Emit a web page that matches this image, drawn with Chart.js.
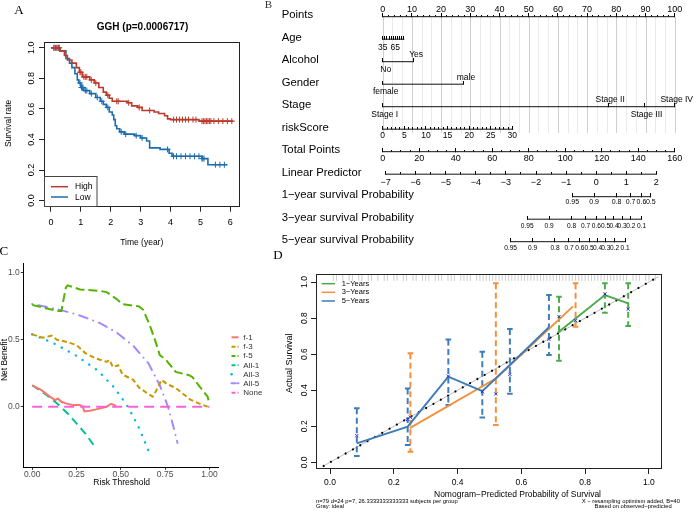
<!DOCTYPE html>
<html>
<head>
<meta charset="utf-8">
<script src="https://cdn.jsdelivr.net/npm/chart.js@4.4.1/dist/chart.umd.min.js"></script>
<style>
  body { margin: 0; background: #fff; }
  #fig { position: relative; width: 700px; height: 516px; overflow: hidden; background: #fff; }
  canvas { position: absolute; }
</style>
</head>
<body>
<div id="fig">
  <canvas id="cA" width="245" height="250" style="left:0;top:0"></canvas>
  <canvas id="cB" width="460" height="256" style="left:240px;top:0"></canvas>
  <canvas id="cC" width="268" height="276" style="left:0;top:240px"></canvas>
  <canvas id="cD" width="432" height="266" style="left:268px;top:250px"></canvas>
</div>
<script>
// ---------- A: Kaplan-Meier, GGH high / low (time in years, survival) ----------
const highSteps = [[0,1],[0.3,0.98],[0.45,0.95],[0.55,0.92],[0.7,0.9],[0.85,0.87],[0.95,0.84],[1.05,0.81],[1.3,0.79],[1.45,0.77],[1.6,0.74],[1.75,0.71],[1.85,0.69],[1.95,0.67],[2.05,0.65],[2.55,0.64],[2.7,0.62],[2.9,0.61],[3.05,0.59],[3.45,0.58],[3.6,0.57],[3.8,0.555],[3.9,0.535],[4.0,0.53],[4.95,0.52],[6.1,0.52]];
const lowSteps = [[0,1],[0.3,0.98],[0.5,0.93],[0.62,0.9],[0.7,0.87],[0.8,0.83],[0.88,0.79],[0.93,0.77],[1.0,0.74],[1.1,0.72],[1.3,0.7],[1.5,0.675],[1.65,0.65],[1.75,0.63],[1.85,0.61],[1.95,0.58],[2.05,0.56],[2.1,0.53],[2.15,0.49],[2.2,0.47],[2.3,0.45],[2.45,0.435],[2.8,0.425],[3.0,0.41],[3.2,0.39],[3.3,0.345],[3.65,0.335],[3.95,0.31],[4.05,0.29],[5.05,0.275],[5.25,0.235],[5.9,0.235]];
const highCensor = [[0.1,1],[0.15,1],[0.2,1],[0.25,1],[0.97,0.84],[1.0,0.84],[1.1,0.81],[1.15,0.81],[1.2,0.81],[1.35,0.79],[1.5,0.77],[1.9,0.69],[2.2,0.65],[2.25,0.65],[2.6,0.64],[2.95,0.61],[3.3,0.59],[4.1,0.53],[4.2,0.53],[4.3,0.53],[4.4,0.53],[4.5,0.53],[4.6,0.53],[4.75,0.53],[4.85,0.53],[5.05,0.52],[5.1,0.52],[5.15,0.52],[5.2,0.52],[5.25,0.52],[5.3,0.52],[5.35,0.52],[5.45,0.52],[5.6,0.52],[5.75,0.52],[5.9,0.52],[6.05,0.52]];
const lowCensor = [[0.1,1],[0.2,1],[0.28,1],[0.97,0.77],[1.02,0.74],[1.05,0.74],[1.07,0.74],[1.15,0.72],[1.2,0.72],[1.35,0.7],[1.55,0.675],[1.7,0.65],[1.9,0.61],[2.35,0.45],[2.5,0.435],[2.85,0.425],[3.05,0.41],[3.9,0.335],[4.1,0.29],[4.2,0.29],[4.35,0.29],[4.5,0.29],[4.65,0.29],[4.8,0.29],[4.95,0.29],[5.05,0.275],[5.08,0.275],[5.12,0.275],[5.5,0.235],[5.65,0.235],[5.8,0.235]];

// ---------- B: nomogram, positions in "Points" units ----------
const nomoRows = ['Points', 'Age', 'Alcohol', 'Gender', 'Stage', 'riskScore', 'Total Points', 'Linear Predictor',
  '1\u2212year survival Probability', '3\u2212year survival Probability', '5\u2212year survival Probability'];
const pointsLabels = ['0','10','20','30','40','50','60','70','80','90','100'];
const pointsPts = [0,10,20,30,40,50,60,70,80,90,100];
const ageLabels = ['35','65'];
const ageLabelPts = [0, 4.3];
const ageTickPts = [0,0.7,1.4,2.2,2.9,3.6,4.3,5.0,5.7,6.4,7.2];
const alcoholLevels = ['No','Yes'];
const alcoholPts = [0, 10.4];
const genderLevels = ['female','male'];
const genderPts = [0, 27.5];
const stageLevels = ['Stage I','Stage II','Stage III','Stage IV'];
const stagePts = [0, 77.2, 89.7, 100];
const riskLabels = ['0','5','10','15','20','25','30'];
const riskPts = [0, 7.4, 14.8, 22.2, 29.6, 37.0, 44.4];
const totalLabels = ['0','20','40','60','80','100','120','140','160'];
const totalPts = [0, 12.5, 25, 37.5, 50, 62.5, 75, 87.5, 100];
const lpLabels = ['\u22127','\u22126','\u22125','\u22124','\u22123','\u22122','\u22121','0','1','2'];
const lpPts = [1.0, 11.3, 21.6, 31.9, 42.2, 52.5, 62.8, 73.1, 83.4, 93.7];
const surv1Labels = ['0.95','0.9','0.8','0.7','0.6','0.5'];
const surv1Pts = [64.9, 72.4, 80.1, 84.9, 88.6, 91.8];
const surv3Labels = ['0.95','0.9','0.8','0.7','0.6','0.5','0.4','0.3','0.2','0.1'];
const surv3Pts = [49.5, 57.0, 64.7, 69.5, 73.2, 76.3, 79.2, 82.0, 85.0, 88.7];
const surv5Labels = ['0.95','0.9','0.8','0.7','0.6','0.5','0.4','0.3','0.2','0.1'];
const surv5Pts = [43.8, 51.3, 59.0, 63.8, 67.5, 70.7, 73.6, 76.4, 79.4, 83.0];

// ---------- C: decision curves (threshold, net benefit) ----------
const dcaLabels = ['f-1','f-3','f-5','All-1','All-3','All-5','None'];
const dcaF1 = [[0,0.16],[0.05,0.125],[0.1,0.075],[0.13,0.05],[0.145,0.062],[0.165,0.037],[0.19,0.025],[0.23,0.012],[0.27,0.012],[0.285,0],[0.295,-0.035],[0.325,-0.03],[0.36,-0.02],[0.42,0],[0.445,0.022],[0.465,0.012],[0.475,0]];
const dcaF3 = [[0,0.54],[0.06,0.515],[0.11,0.53],[0.14,0.5],[0.19,0.485],[0.25,0.46],[0.3,0.4],[0.36,0.36],[0.42,0.335],[0.437,0.35],[0.455,0.295],[0.485,0.31],[0.51,0.24],[0.57,0.2],[0.605,0.14],[0.65,0.1],[0.68,0.075],[0.7,0.12],[0.73,0.2],[0.76,0.17],[0.81,0.14],[0.89,0.055],[0.94,0.025],[0.99,0]];
const dcaF5 = [[0,0.76],[0.06,0.74],[0.14,0.715],[0.165,0.715],[0.19,0.89],[0.2,0.905],[0.27,0.875],[0.38,0.865],[0.42,0.855],[0.475,0.805],[0.51,0.765],[0.6,0.75],[0.625,0.725],[0.66,0.62],[0.69,0.51],[0.72,0.385],[0.755,0.35],[0.81,0.26],[0.885,0.235],[0.905,0.22],[0.945,0.15],[0.99,0.075],[1.0,0.02]];
const dcaAll1 = [[0,0.16],[0.05,0.116],[0.1,0.07],[0.156,0.005],[0.2,-0.05],[0.25,-0.124],[0.3,-0.2],[0.36,-0.31]];
const dcaAll3 = [[0,0.54],[0.12,0.475],[0.25,0.38],[0.37,0.27],[0.465,0.14],[0.54,0],[0.6,-0.15],[0.66,-0.34]];
const dcaAll5 = [[0,0.766],[0.14,0.728],[0.25,0.69],[0.38,0.625],[0.475,0.555],[0.57,0.455],[0.655,0.325],[0.72,0.16],[0.765,0.005],[0.795,-0.14],[0.82,-0.27]];
const dcaNone = [[0,0],[1,0]];

// ---------- D: calibration (predicted, observed) ----------
const calLabels = ['1\u2212Years','3\u2212Years','5\u2212Years'];
const calPred1 = [0.715, 0.862, 0.935];
const calObs1 = [0.72, 0.928, 0.882];
const calPred3 = [0.25, 0.52, 0.762];
const calObs3 = [0.19, 0.465, 0.865];
const calPred5 = [0.084, 0.2435, 0.371, 0.4775, 0.564, 0.6865];
const calObs5 = [0.105, 0.198, 0.475, 0.395, 0.54, 0.749];
const barX1 = [0.718, 0.862, 0.935];
const barLo1 = [0.564, 0.83, 0.756];
const barHi1 = [0.919, 0.993, 0.993];
const barEst1 = [0.808, 0.934, 0.85];
const barX3 = [0.252, 0.52, 0.77];
const barLo3 = [0.059, 0.207, 0.752];
const barHi3 = [0.605, 0.993, 0.993];
const barEst3 = [0.25, 0.379, 0.786];
const barX5 = [0.084, 0.2435, 0.371, 0.4775, 0.564, 0.6865];
const barLo5 = [0.035, 0.096, 0.318, 0.248, 0.381, 0.595];
const barHi5 = [0.3, 0.41, 0.682, 0.613, 0.739, 0.928];
const barEst5 = [0.148, 0.238, 0.478, 0.392, 0.488, 0.682];
const rugPred = [0.01,0.02,0.04,0.06,0.07,0.09,0.1,0.12,0.13,0.15,0.17,0.18,0.2,0.21,0.23,0.24,0.26,0.27,0.29,0.3,0.31,0.33,0.34,0.35,0.37,0.38,0.39,0.41,0.42,0.43,0.44,0.46,0.47,0.48,0.49,0.5,0.51,0.52,0.53,0.54,0.55,0.56,0.57,0.58,0.59,0.6,0.61,0.62,0.63,0.64,0.65,0.66,0.67,0.68,0.69,0.7,0.71,0.72,0.73,0.74,0.75,0.76,0.77,0.78,0.79,0.8,0.81,0.82,0.83,0.84,0.85,0.86,0.87,0.88,0.89,0.9,0.91,0.92,0.93,0.95,0.96,0.97,0.99,1.0,1.02];
const idealLine = [[-0.02,-0.02],[1.03,1.03]];

// ---------- helpers ----------
const F = '"Liberation Sans", Arial, Helvetica, sans-serif';
const SERIF = '"Liberation Serif", "Times New Roman", serif';
Chart.defaults.font.family = F;
Chart.defaults.color = '#000';

const xy = a => a.map(p => ({ x: p[0], y: p[1] }));
const zip = (xs, ys) => xs.map((x, i) => ({ x, y: ys[i] }));
const base = {
  responsive: false, animation: false, devicePixelRatio: 1, events: [],
  plugins: { legend: { display: false }, tooltip: { enabled: false } }
};

function textLayer(items) {
  return {
    id: 'texts',
    afterDraw(chart) {
      const ctx = chart.ctx;
      items.forEach(t => {
        ctx.save();
        ctx.font = t.font;
        ctx.fillStyle = t.color || '#000';
        ctx.textAlign = t.align || 'center';
        ctx.textBaseline = t.base || 'middle';
        ctx.translate(t.x, t.y);
        if (t.rot) ctx.rotate(t.rot);
        ctx.fillText(t.text, 0, 0);
        ctx.restore();
      });
    }
  };
}

const boxPlugin = {
  id: 'box',
  afterDatasetsDraw(chart) {
    const { left, top, right, bottom } = chart.chartArea;
    const ctx = chart.ctx;
    ctx.save();
    ctx.strokeStyle = '#222';
    ctx.lineWidth = 1;
    ctx.strokeRect(Math.round(left) + 0.5, Math.round(top) + 0.5, Math.round(right - left) - 1, Math.round(bottom - top) - 1);
    ctx.restore();
  }
};

function lineKey(ctx, x1, x2, y, color, width, dash, cap) {
  ctx.save();
  ctx.strokeStyle = color;
  ctx.lineWidth = width;
  ctx.setLineDash(dash || []);
  ctx.lineCap = cap || 'butt';
  ctx.beginPath();
  ctx.moveTo(x1, y);
  ctx.lineTo(x2, y);
  ctx.stroke();
  ctx.restore();
}

// ---------- A ----------
const RED = '#BC3A2A', BLUE = '#1B6DAE';
const legendA = {
  id: 'legendA',
  afterDraw(chart) {
    const ctx = chart.ctx;
    ctx.save();
    ctx.strokeStyle = '#444';
    ctx.lineWidth = 1;
    ctx.strokeRect(44.5, 176.5, 52.5, 30);
    ctx.restore();
    lineKey(ctx, 51, 68, 186.7, RED, 1.5);
    lineKey(ctx, 51, 68, 197, BLUE, 1.5);
    ctx.save();
    ctx.font = '8.5px ' + F;
    ctx.fillStyle = '#000';
    ctx.textBaseline = 'middle';
    ctx.fillText('High', 75, 187);
    ctx.fillText('Low', 75, 197.3);
    ctx.restore();
  }
};

new Chart(document.getElementById('cA'), {
  type: 'scatter',
  data: {
    datasets: [
      { data: xy(highCensor), pointStyle: 'cross', pointRadius: 3, borderColor: RED, borderWidth: 1 },
      { data: xy(lowCensor), pointStyle: 'cross', pointRadius: 3, borderColor: BLUE, borderWidth: 1 },
      { data: xy(highSteps), showLine: true, stepped: true, borderColor: RED, borderWidth: 1.6, pointRadius: 0 },
      { data: xy(lowSteps), showLine: true, stepped: true, borderColor: BLUE, borderWidth: 1.6, pointRadius: 0 }
    ]
  },
  options: {
    ...base,
    layout: { padding: { top: 41.7, right: 4.3, left: 0, bottom: 0 } },
    scales: {
      x: {
        min: -0.233, max: 6.323,
        afterFit: s => { s.height = 43.3; },
        ticks: { stepSize: 1, includeBounds: false, maxRotation: 0, padding: 5, font: { size: 9 } },
        grid: { drawOnChartArea: false, tickLength: 5, color: '#222' },
        border: { display: false }
      },
      y: {
        min: -0.04, max: 1.04,
        afterFit: s => { s.width = 44; },
        ticks: { stepSize: 0.2, includeBounds: false, minRotation: 90, maxRotation: 90, crossAlign: 'center', padding: 1, font: { size: 9 }, callback: v => v.toFixed(1) },
        grid: { drawOnChartArea: false, tickLength: 5, color: '#222' },
        border: { display: false }
      }
    }
  },
  plugins: [boxPlugin, legendA, textLayer([
    { text: 'A', x: 19, y: 11, font: '13px ' + SERIF },
    { text: 'GGH (p=0.0006717)', x: 142.5, y: 27, font: 'bold 10px ' + F },
    { text: 'Survival rate', x: 8.5, y: 123.5, rot: -Math.PI / 2, font: '8.5px ' + F },
    { text: 'Time (year)', x: 141.7, y: 243, font: '8.5px ' + F }
  ])]
});

// ---------- B ----------
function tickMark(len, color) {
  const c = document.createElement('canvas');
  c.width = 1;
  c.height = Math.round(len * 2);
  const g = c.getContext('2d');
  g.fillStyle = color;
  g.fillRect(0, 0, 1, Math.round(len));
  return c;
}
const bigTick = tickMark(3.5, '#000');
const smallTick = tickMark(2, '#000');

function minorBetween(pts, parts) {
  const out = [];
  for (let i = 0; i < pts.length - 1; i++) {
    for (let k = 1; k < parts; k++) out.push(pts[i] + (pts[i + 1] - pts[i]) * k / parts);
  }
  return out;
}

const nomoAxes = [
  { line: [0, 100], major: pointsPts, minor: minorBetween(pointsPts, 5), labels: pointsLabels, at: pointsPts, side: 'above', size: 9 },
  { line: [0, 7.4], major: ageTickPts, minor: [], labels: ageLabels, at: ageLabelPts, side: 'below', size: 8.5, dy: 8.4 },
  { line: [0, alcoholPts[1]], major: alcoholPts, minor: [], labels: alcoholLevels, at: alcoholPts, side: ['below', 'above'], size: 8.5, shift: 3 },
  { line: [0, genderPts[1]], major: genderPts, minor: [], labels: genderLevels, at: genderPts, side: ['below', 'above'], size: 8.5, shift: 3 },
  { line: [0, 100], major: stagePts, minor: [], labels: stageLevels, at: stagePts, side: ['below', 'above', 'below', 'above'], size: 8.5, shift: 2 },
  { line: [0, 44.7], major: riskPts, minor: minorBetween(riskPts, 5), labels: riskLabels, at: riskPts, side: 'below', size: 8.5, dy: 6.7 },
  { line: [0, 100], major: totalPts, minor: minorBetween(totalPts, 4), labels: totalLabels, at: totalPts, side: 'below', size: 9, dy: 7.3 },
  { line: [lpPts[0], lpPts[lpPts.length - 1]], major: lpPts, minor: minorBetween(lpPts, 2), labels: lpLabels, at: lpPts, side: 'below', size: 9, dy: 8.4 },
  { line: [surv1Pts[0], surv1Pts[surv1Pts.length - 1]], major: surv1Pts, minor: [], labels: surv1Labels, at: surv1Pts, side: 'below', size: 7, dy: 5.6 },
  { line: [surv3Pts[0], surv3Pts[surv3Pts.length - 1]], major: surv3Pts, minor: [], labels: surv3Labels, at: surv3Pts, side: 'below', size: 6.6, dy: 6.7 },
  { line: [surv5Pts[0], surv5Pts[surv5Pts.length - 1]], major: surv5Pts, minor: [], labels: surv5Labels, at: surv5Pts, side: 'below', size: 6.6, dy: 6.6 }
];

const nomoSets = [];
nomoAxes.forEach((ax, r) => {
  nomoSets.push({ data: [{ x: ax.line[0], y: r }, { x: ax.line[1], y: r }], showLine: true, borderColor: '#111', borderWidth: 1, pointRadius: 0, clip: false });
  nomoSets.push({ data: ax.major.map(v => ({ x: v, y: r })), pointStyle: bigTick, pointRadius: 1, clip: false });
  if (ax.minor.length) nomoSets.push({ data: ax.minor.map(v => ({ x: v, y: r })), pointStyle: smallTick, pointRadius: 1, clip: false });
});

const gridEndRow = 5.17;
const nomoPlugin = {
  id: 'nomo',
  beforeDatasetsDraw(chart) {
    const { ctx, scales: { x, y } } = chart;
    const y0 = y.getPixelForValue(0), y1 = y.getPixelForValue(gridEndRow);
    ctx.save();
    ctx.lineWidth = 1;
    for (let i = 0; i <= 30; i++) {
      const v = i * 10 / 3;
      const px = Math.round(x.getPixelForValue(v)) + 0.5;
      ctx.strokeStyle = i % 3 === 0 ? '#cfcfcf' : '#e9e9e9';
      ctx.beginPath(); ctx.moveTo(px, y0); ctx.lineTo(px, y1); ctx.stroke();
    }
    ctx.restore();
  },
  afterDatasetsDraw(chart) {
    const { ctx, scales: { x, y } } = chart;
    ctx.save();
    ctx.fillStyle = '#000';
    ctx.textBaseline = 'middle';
    ctx.font = '11.3px ' + F;
    ctx.textAlign = 'left';
    nomoRows.forEach((name, r) => ctx.fillText(name, 41.7, y.getPixelForValue(r) - 1.5));
    ctx.textAlign = 'center';
    nomoAxes.forEach((ax, r) => {
      ctx.font = ax.size + 'px ' + F;
      const py = y.getPixelForValue(r);
      ax.labels.forEach((lab, k) => {
        const side = Array.isArray(ax.side) ? ax.side[k] : ax.side;
        const off = side === 'above' ? -6.7 : (ax.dy || 7.5);
        ctx.fillText(lab, x.getPixelForValue(ax.at[k]) + (ax.shift || 0), py + off);
      });
    });
    ctx.fillStyle = '#333';
    ctx.font = '11px ' + SERIF;
    ctx.fillText('B', 28.3, 5.5);
    ctx.restore();
  }
};

new Chart(document.getElementById('cB'), {
  type: 'scatter',
  data: { datasets: nomoSets },
  options: {
    ...base,
    layout: { padding: { left: 142.7, right: 25.3, top: 16.7, bottom: 14.3 } },
    scales: {
      x: { display: false, min: 0, max: 100 },
      y: { display: false, min: 0, max: 10, reverse: true }
    }
  },
  plugins: [nomoPlugin]
});

// ---------- C ----------
const dcaStyle = [
  { color: '#F8766D', dash: [], cap: 'butt' },
  { color: '#C49A00', dash: [5, 3], cap: 'butt' },
  { color: '#53B400', dash: [9, 4], cap: 'butt' },
  { color: '#00C094', dash: [8, 5], cap: 'butt' },
  { color: '#00B6EB', dash: [0.1, 8], cap: 'round' },
  { color: '#A58AFF', dash: [0.1, 6, 9, 6], cap: 'round' },
  { color: '#FB61D7', dash: [10, 6], cap: 'butt' }
];
const dcaData = [dcaF1, dcaF3, dcaF5, dcaAll1, dcaAll3, dcaAll5, dcaNone];
const dcaSets = dcaData.map((d, i) => ({
  data: xy(d), showLine: true, pointRadius: 0, borderColor: dcaStyle[i].color,
  borderWidth: i === 4 ? 2.4 : 2, borderDash: dcaStyle[i].dash, borderCapStyle: dcaStyle[i].cap
}));
// draw order bottom -> top: All-5, All-3, All-1, f-5, f-3, f-1, None
const dcaDrawOrder = [5, 4, 3, 2, 1, 0, 6];

const legendC = {
  id: 'legendC',
  afterDraw(chart) {
    const ctx = chart.ctx;
    const ys = [97.3, 106.7, 116, 125.3, 134.3, 143.3, 152.7];
    dcaLabels.forEach((lab, i) => {
      const st = dcaStyle[i];
      lineKey(ctx, 231.5, 238.5, ys[i], st.color, i === 4 ? 2.4 : 2, st.dash.length ? (i === 4 ? [0.1, 8] : [4, 2]) : [], st.cap);
      ctx.save();
      ctx.font = '8px ' + F;
      ctx.fillStyle = '#333';
      ctx.textBaseline = 'middle';
      ctx.fillText(lab, 243.3, ys[i]);
      ctx.restore();
    });
  }
};

new Chart(document.getElementById('cC'), {
  type: 'scatter',
  data: { datasets: dcaDrawOrder.map(i => dcaSets[i]).reverse() },
  options: {
    ...base,
    layout: { padding: { top: 23.3, right: 49.7, left: 0, bottom: 0 } },
    scales: {
      x: {
        min: -0.05, max: 1.05,
        afterFit: s => { s.height = 48.7; },
        ticks: { stepSize: 0.25, includeBounds: false, maxRotation: 0, padding: 0, color: '#4d4d4d', font: { size: 8.5 }, callback: v => v.toFixed(2) },
        grid: { drawOnChartArea: false, tickLength: 2.5, color: '#333' },
        border: { display: true, color: '#000', width: 1 }
      },
      y: {
        min: -0.452, max: 1.07,
        afterFit: s => { s.width = 23.3; },
        ticks: { stepSize: 0.5, includeBounds: false, padding: 1, color: '#4d4d4d', font: { size: 8.5 }, callback: v => v.toFixed(1) },
        grid: { drawOnChartArea: false, tickLength: 2.5, color: '#333' },
        border: { display: true, color: '#000', width: 1 }
      }
    }
  },
  plugins: [legendC, textLayer([
    { text: 'C', x: -0.5, y: 15, align: 'left', base: 'alphabetic', font: '13px ' + SERIF },
    { text: 'Net Benefit', x: 5, y: 120, rot: -Math.PI / 2, font: '8.5px ' + F },
    { text: 'Risk Threshold', x: 121.7, y: 243, font: '8.5px ' + F }
  ])]
});

// ---------- D ----------
const G1 = '#4DAA4D', O3 = '#F6913A', B5 = '#3F7DB8', MARK = '#2E2ED0';
const calColors = [G1, O3, B5];
const dSets = [];
// rug of predicted values along the top
dSets.push({ data: rugPred.map(v => ({ x: v, y: 1.025 })), pointStyle: 'line', rotation: 90, pointRadius: 3.3, borderColor: '#cccccc', borderWidth: 1, clip: false });
// ideal line
dSets.push({ data: xy(idealLine), showLine: true, pointRadius: 0, borderColor: '#bbbbbb', borderWidth: 1 });
dSets.push({ data: xy(idealLine), showLine: true, pointRadius: 0, borderColor: '#000', borderWidth: 2.2, borderDash: [0.01, 8.4], borderCapStyle: 'round' });
// error bars
[[barX1, barLo1, barHi1, G1], [barX3, barLo3, barHi3, O3], [barX5, barLo5, barHi5, B5]].forEach(([bx, lo, hi, col]) => {
  bx.forEach((x, k) => {
    dSets.push({
      data: [{ x, y: hi[k] }, { x, y: lo[k] }], showLine: true, borderColor: col, borderWidth: 2,
      borderDash: [6, 3.5], pointStyle: 'line', pointRadius: 2.8, pointBorderWidth: 2, pointBorderColor: col
    });
  });
});
// calibration lines
[[calPred1, calObs1, G1], [calPred3, calObs3, O3], [calPred5, calObs5, B5]].forEach(([px, py, col]) => {
  dSets.push({ data: zip(px, py), showLine: true, pointRadius: 0, borderColor: col, borderWidth: 2 });
});
// bias-corrected estimates
[[barX1, barEst1], [barX3, barEst3], [barX5, barEst5]].forEach(([bx, est]) => {
  dSets.push({ data: zip(bx, est), pointStyle: 'crossRot', pointRadius: 2.2, borderColor: MARK, borderWidth: 1 });
});

const legendD = {
  id: 'legendD',
  afterDraw(chart) {
    const ctx = chart.ctx;
    const ys = [33.7, 42.3, 51];
    calLabels.forEach((lab, i) => {
      lineKey(ctx, 53.7, 67, ys[i], calColors[i], 1.5);
      ctx.save();
      ctx.font = '7.5px ' + F;
      ctx.fillStyle = '#000';
      ctx.textBaseline = 'middle';
      ctx.fillText(lab, 73.7, ys[i]);
      ctx.restore();
    });
  }
};

new Chart(document.getElementById('cD'), {
  type: 'scatter',
  data: { datasets: dSets.reverse() },
  options: {
    ...base,
    layout: { padding: { top: 24.3, right: 37.7, left: 0, bottom: 0 } },
    scales: {
      x: {
        min: -0.044, max: 1.042,
        afterFit: s => { s.height = 47; },
        ticks: { stepSize: 0.2, includeBounds: false, maxRotation: 0, padding: 4, font: { size: 8.5 }, callback: v => v.toFixed(1) },
        grid: { drawOnChartArea: false, tickLength: 5, color: '#222' },
        border: { display: false }
      },
      y: {
        min: -0.037, max: 1.043,
        afterFit: s => { s.width = 48; },
        ticks: { stepSize: 0.2, includeBounds: false, minRotation: 90, maxRotation: 90, crossAlign: 'center', padding: 0, font: { size: 8.5 }, callback: v => v.toFixed(1) },
        grid: { drawOnChartArea: false, tickLength: 5, color: '#222' },
        border: { display: false }
      }
    }
  },
  plugins: [boxPlugin, legendD, textLayer([
    { text: 'D', x: 10, y: 6, font: '13px ' + SERIF },
    { text: 'Actual Survival', x: 22, y: 113.3, rot: -Math.PI / 2, font: '9px ' + F },
    { text: 'Nomogram\u2212Predicted Probability of Survival', x: 249.5, y: 244.3, font: '8.5px ' + F },
    { text: 'n=79 d=24 p=7, 26.3333333333333 subjects per group', x: 48, y: 251.7, align: 'left', font: '5.8px ' + F },
    { text: 'Gray: ideal', x: 48, y: 256, align: 'left', font: '5.8px ' + F },
    { text: 'X \u2212 resampling optimism added, B=40', x: 412, y: 251.7, align: 'right', font: '5.8px ' + F },
    { text: 'Based on observed\u2212predicted', x: 403.7, y: 256, align: 'right', font: '5.8px ' + F }
  ])]
});
</script>
</body>
</html>
